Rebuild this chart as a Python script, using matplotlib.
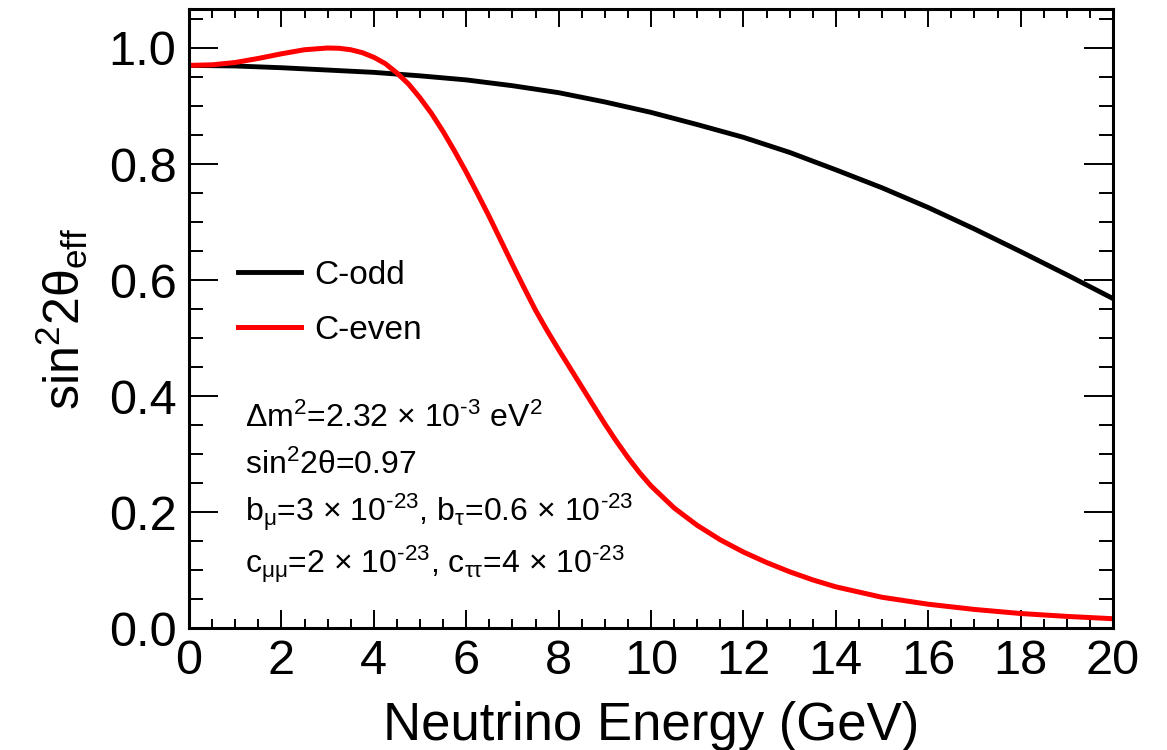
import numpy as np
import matplotlib
matplotlib.use("Agg")
from matplotlib import pyplot as plt
from matplotlib.ticker import MultipleLocator, FormatStrFormatter

plt.rcParams['font.family'] = ['Liberation Sans', 'DejaVu Sans']
plt.rcParams['mathtext.fontset'] = 'custom'
plt.rcParams['mathtext.rm'] = 'Liberation Sans'
plt.rcParams['mathtext.it'] = 'Liberation Sans:italic'
plt.rcParams['mathtext.sf'] = 'Liberation Sans'
plt.rcParams['mathtext.default'] = 'regular'

# C-odd curve
energy_odd = [0, 1, 2, 3, 4, 5, 6, 7, 8, 9, 10, 11, 12, 13, 14, 15, 16, 17, 18, 19, 20]
sin2_odd = [0.970, 0.969, 0.966, 0.962, 0.958, 0.952, 0.945, 0.935, 0.923, 0.907, 0.889,
            0.868, 0.846, 0.820, 0.790, 0.759, 0.725, 0.688, 0.649, 0.609, 0.568]

# C-even curve
energy_even = [0, 0.5, 1, 1.5, 2, 2.5, 3, 3.25, 3.5, 3.75, 4, 4.25, 4.5, 4.75, 5, 5.25, 5.5,
               5.75, 6, 6.25, 6.5, 6.75, 7, 7.25, 7.5, 7.75, 8, 8.5, 9, 9.25, 9.5, 9.75,
               10, 10.5, 11, 11.5, 12, 12.5, 13, 13.5, 14, 15, 16, 17, 18, 19, 20]
sin2_even = [0.970, 0.971, 0.975, 0.982, 0.990, 0.997, 1.000, 0.9995, 0.997, 0.992, 0.984,
             0.973, 0.957, 0.938, 0.914, 0.887, 0.856, 0.822, 0.786, 0.748, 0.709, 0.668,
             0.627, 0.587, 0.548, 0.513, 0.480, 0.416, 0.352, 0.322, 0.294, 0.268, 0.245,
             0.207, 0.177, 0.152, 0.131, 0.113, 0.097, 0.083, 0.071, 0.053, 0.041, 0.032,
             0.025, 0.020, 0.016]

param_lines = [r'$\Delta$m$^2$=2.32 $\times$ 10$^{\text{-}3}$ eV$^2$',
               r'sin$^2$2$\theta$=0.97',
               r'b$_\mu$=3 $\times$ 10$^{\text{-}23}$, b$_\tau$=0.6 $\times$ 10$^{\text{-}23}$',
               r'c$_{\mu\mu}$=2 $\times$ 10$^{\text{-}23}$, c$_{\tau\tau}$=4 $\times$ 10$^{\text{-}23}$']
param_baselines = [427, 474, 521, 573]  # pixel rows

W, H = 1167, 750
fig = plt.figure(figsize=(W / 100, H / 100), dpi=100)
x0, x1, y0, y1 = 189, 1113, 9, 628
ax = fig.add_axes([x0 / W, 1 - y1 / H, (x1 - x0) / W, (y1 - y0) / H])

ax.plot(energy_odd, sin2_odd, color='black', lw=3.5, label='C-odd')
ax.plot(energy_even, sin2_even, color='#ff0000', lw=3.6, label='C-even')

ax.set_xlim(0, 20)
ax.set_ylim(0, (y1 - y0) / 580)
ax.xaxis.set_major_locator(MultipleLocator(2))
ax.xaxis.set_minor_locator(MultipleLocator(0.5))
ax.yaxis.set_major_locator(MultipleLocator(0.2))
ax.yaxis.set_minor_locator(MultipleLocator(0.05))
ax.yaxis.set_major_formatter(FormatStrFormatter('%.1f'))

ax.tick_params(which='both', direction='in', top=True, right=True, width=1.4, labelsize=35)
ax.xaxis.set_tick_params(which='major', length=13, pad=8)
ax.xaxis.set_tick_params(which='minor', length=6.5)
ax.yaxis.set_tick_params(which='major', length=21, pad=9)
ax.yaxis.set_tick_params(which='minor', length=10)
for s in ax.spines.values():
    s.set_linewidth(2.2)

ax.set_xlabel('Neutrino Energy (GeV)', fontsize=38, labelpad=12)
ax.set_ylabel(r'sin$^2$2$\theta_{eff}$', fontsize=36)
ax.yaxis.set_label_coords((90 - x0) / (x1 - x0), 0.5)

ax.legend(loc='upper left', bbox_to_anchor=((238 - x0) / (x1 - x0), (y1 - 260) / (y1 - y0)),
          frameon=False, fontsize=24, handlelength=1.9, handletextpad=0.4,
          labelspacing=0.72, borderpad=0, borderaxespad=0)

for txt, yb in zip(param_lines, param_baselines):
    ax.text((245 - x0) / (x1 - x0), (y1 - yb) / (y1 - y0), txt, transform=ax.transAxes,
            fontsize=23, va='baseline', ha='left')

plt.savefig('out.png', dpi=100)
